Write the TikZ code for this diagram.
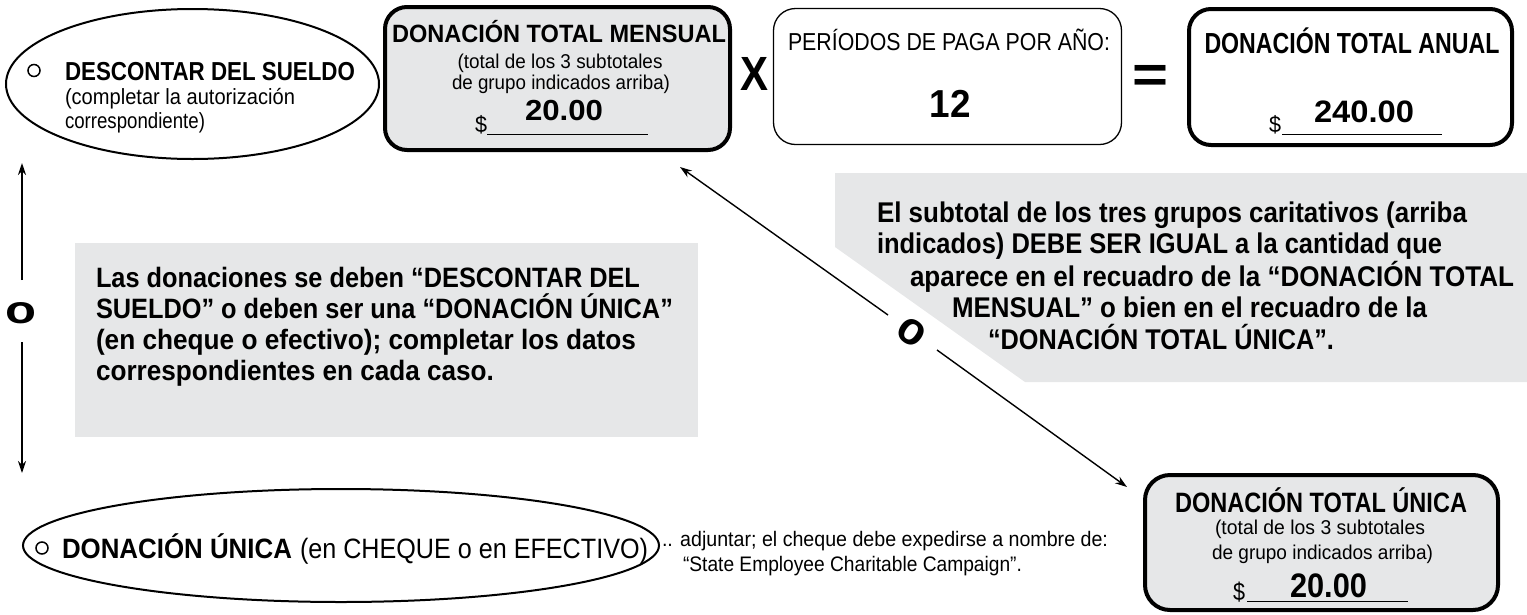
\documentclass[tikz,border=0pt]{standalone}
\usepackage{fontspec}
\setmainfont{Liberation Sans}
\usetikzlibrary{shapes.geometric,arrows.meta}
\definecolor{panel}{HTML}{E6E7E8}
\newsavebox\fitbx
\newcommand\fitto[2]{\sbox\fitbx{#2}\edef\fitsc{\fpeval{(#1)/(\the\wd\fitbx)}}\scalebox{\fitsc}[1]{\usebox\fitbx}}
\newcommand\fs[1]{\fontsize{#1}{#1}\selectfont}
\begin{document}
\begin{tikzpicture}[x=1pt,y=-1pt,
  txt/.style={inner sep=0pt,outer sep=0pt,anchor=base west},
  ctxt/.style={inner sep=0pt,outer sep=0pt,anchor=base},
  thickbox/.style={draw,line width=4pt,rounded corners=22pt,inner sep=0pt},
  thinbox/.style={draw,line width=1.3pt,rounded corners=22pt,inner sep=0pt},
  ell/.style={ellipse,draw,line width=2pt,inner sep=0pt},
  bullet/.style={circle,draw,line width=1.5pt,minimum size=12pt,inner sep=0pt},
  arr/.style={line width=1.4pt,-{Stealth[length=12pt,width=8pt]}},
  uline/.style={line width=1pt}]
\useasboundingbox (0,0) rectangle (1527,614);

% ---- Descontar del sueldo
\node[ell,minimum width=373pt,minimum height=150pt] (desc) at (192.5,84) {};
\node[bullet] (b1) at (34,70.5) {};
\node[txt] (desct) at (65,80) {\fs{26}\bfseries\fitto{290pt}{DESCONTAR DEL SUELDO}};
\node[txt] (desc2) at (65,104) {\fs{22}\fitto{230pt}{(completar la autorización}};
\node[txt] (desc3) at (65,128) {\fs{22}\fitto{140pt}{correspondiente)}};

% ---- Donación total mensual
\node[thickbox,fill=panel,minimum width=345pt,minimum height=143pt] (mens) at (557.5,78.5) {};
\node[ctxt] (menst) at (559,42) {\fs{25}\bfseries\fitto{334pt}{DONACIÓN TOTAL MENSUAL}};
\node[ctxt] (mens1) at (560,68) {\fs{20}\fitto{205pt}{(total de los 3 subtotales}};
\node[ctxt] (mens2) at (561,89) {\fs{20}\fitto{218pt}{de grupo indicados arriba)}};
\node[txt] (mensd) at (475,132) {\fs{23}\fitto{12pt}{\$}};
\node[txt] (mensv) at (525,120) {\fs{29}\bfseries\fitto{78pt}{20.00}};
\draw[uline] (487,134.5) -- (648,134.5);

% ---- X
\node[ctxt] (times) at (754,90) {\fs{48}\bfseries\fitto{28pt}{X}};

% ---- Periodos
\node[thinbox,minimum width=348pt,minimum height=136pt] (per) at (947.5,76.5) {};
\node[txt] (pert) at (788,50) {\fs{24.5}\fitto{322pt}{PERÍODOS DE PAGA POR AÑO:}};
\node[ctxt] (perv) at (950,117) {\fs{39}\bfseries\fitto{41pt}{12}};

% ---- =
\node[ctxt] (eq) at (1150,92) {\fs{52}\bfseries\fitto{36pt}{=}};

% ---- Anual
\node[thickbox,minimum width=323pt,minimum height=136pt] (anu) at (1350.5,77) {};
\node[ctxt] (anut) at (1352,53) {\fs{29}\bfseries\fitto{295pt}{DONACIÓN TOTAL ANUAL}};
\node[txt] (anud) at (1269,132) {\fs{23}\fitto{12pt}{\$}};
\node[txt] (anuv) at (1314,122) {\fs{31}\bfseries\fitto{100pt}{240.00}};
\draw[uline] (1282,134) -- (1442,134);

% ---- vertical arrow with o
\coordinate (va1) at (22,280);
\coordinate (va2) at (22,163);
\coordinate (vb1) at (22,342);
\coordinate (vb2) at (22,473);
\node[ctxt] (vo) at (21,323) {\fs{39}\bfseries\fitto{31pt}{o}};
\draw[arr] (va1) -- (va2);
\draw[arr] (vb1) -- (vb2);

% ---- left note
\fill[panel] (75,243) rectangle (698,437);
\node[txt] (l1) at (96,287) {\fs{28}\bfseries\fitto{544pt}{Las donaciones se deben “DESCONTAR DEL}};
\node[txt] (l2) at (96,318) {\fs{28}\bfseries\fitto{577pt}{SUELDO” o deben ser una “DONACIÓN ÚNICA”}};
\node[txt] (l3) at (96,349) {\fs{28}\bfseries\fitto{540pt}{(en cheque o efectivo); completar los datos}};
\node[txt] (l4) at (96,380) {\fs{28}\bfseries\fitto{398pt}{correspondientes en cada caso.}};

% ---- right note
\fill[panel] (835,173) -- (1527,173) -- (1527,382) -- (1025,382) -- (835,247) -- cycle;
\node[txt] (r1) at (877,222) {\fs{28.5}\bfseries\fitto{590pt}{El subtotal de los tres grupos caritativos (arriba}};
\node[txt] (r2) at (877,253) {\fs{28.5}\bfseries\fitto{565pt}{indicados) DEBE SER IGUAL a la cantidad que}};
\node[txt] (r3) at (910,286) {\fs{28.5}\bfseries\fitto{604pt}{aparece en el recuadro de la “DONACIÓN TOTAL}};
\node[txt] (r4) at (952,317) {\fs{28.5}\bfseries\fitto{475pt}{MENSUAL” o bien en el recuadro de la}};
\node[txt] (r5) at (988,349) {\fs{28.5}\bfseries\fitto{346pt}{“DONACIÓN TOTAL ÚNICA”.}};

% ---- diagonal arrows with o
\coordinate (da1) at (888,315);
\coordinate (da2) at (680,167);
\coordinate (db1) at (937,350);
\coordinate (db2) at (1127,487);
\node[inner sep=0pt,rotate=-35] (dob) at (912,332) {\fs{46}\bfseries\fitto{27pt}{o}};
\draw[arr] (da1) -- (da2);
\draw[arr] (db1) -- (db2);

% ---- Donacion unica (ellipse)
\node[ell,minimum width=636pt,minimum height=113pt] (unic) at (341,545.5) {};
\node[bullet] (b2) at (42,548) {};
\node[txt] (unict) at (62,558) {\fs{28}\bfseries\fitto{230pt}{DONACIÓN ÚNICA}};
\node[txt] (unicp) at (300,558) {\fs{28}\fitto{348pt}{(en CHEQUE o en EFECTIVO)}};
\node[txt] (adj1) at (662,546) {\fs{21}\fitto{446pt}{.. adjuntar; el cheque debe expedirse a nombre de:}};
\node[txt] (adj2) at (683,571) {\fs{21}\fitto{339pt}{“State Employee Charitable Campaign”.}};

% ---- Donacion total unica
\node[thickbox,fill=panel,rounded corners=25pt,minimum width=353pt,minimum height=135pt] (tot) at (1321.5,542.5) {};
\node[ctxt] (tott) at (1321,512) {\fs{28}\bfseries\fitto{292pt}{DONACIÓN TOTAL ÚNICA}};
\node[ctxt] (tot1) at (1320,534) {\fs{20}\fitto{210pt}{(total de los 3 subtotales}};
\node[ctxt] (tot2) at (1322.5,559) {\fs{20}\fitto{221pt}{de grupo indicados arriba)}};
\node[txt] (totd) at (1233,600) {\fs{25}\fitto{12pt}{\$}};
\node[txt] (totv) at (1290,597) {\fs{34}\bfseries\fitto{77pt}{20.00}};
\draw[uline] (1247,601) -- (1408,601);
\end{tikzpicture}
\end{document}
